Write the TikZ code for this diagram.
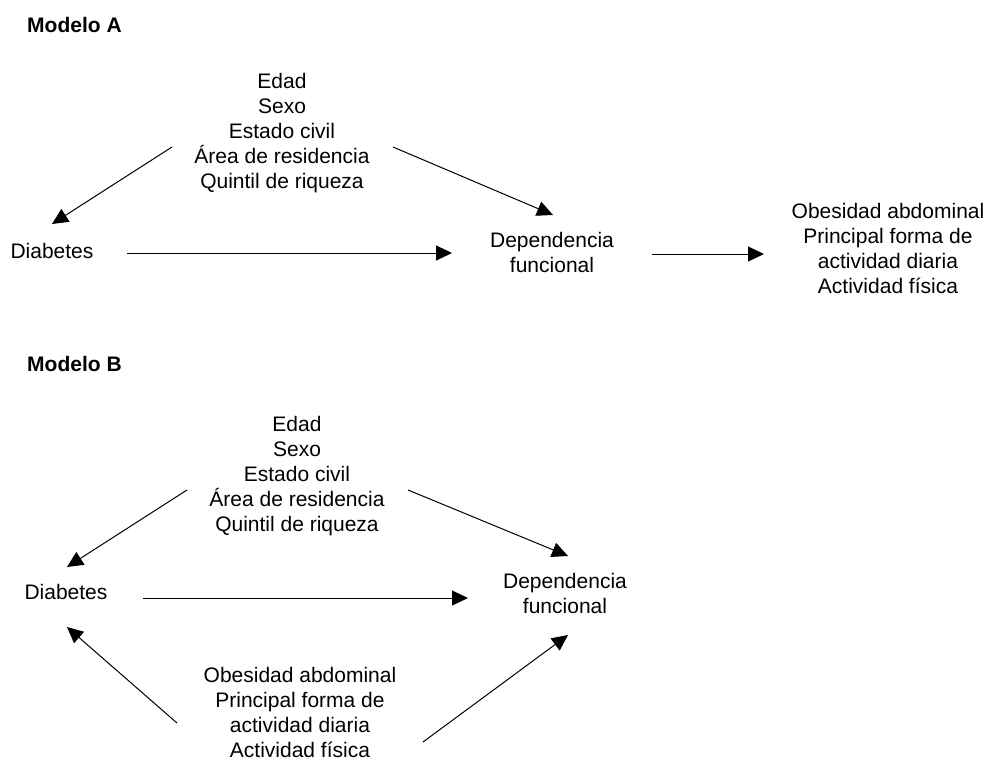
\documentclass[tikz,border=0pt]{standalone}
\usepackage{fontspec}
\setmainfont{Liberation Sans}
\usepackage{tikz}
\usetikzlibrary{calc, arrows.meta}
\tikzset{every node/.append style={font=\fontsize{21}{25}\selectfont}}
\tikzset{
    var/.style={align=center, inner sep=0pt},
    model/.style={anchor=west, inner sep=0pt, font=\fontsize{21}{25}\selectfont\bfseries},
    arr/.style={->, line width=1pt}
}

\begin{document}
\begin{tikzpicture}[x=1pt, y=-1pt, >={Triangle[length=16pt, width=15pt]}]
    \useasboundingbox (0,0) rectangle (987,760);
    % Modelo A
    \node[model] (modA) at (27,25) {Modelo A};
    \node[var] (topA) at (282,133) {Edad\\Sexo\\Estado civil\\Área de residencia\\Quintil de riqueza};
    \node[var] (diabA) at (52,251) {Diabetes};
    \node[var] (depA) at (552,252) {Dependencia\\funcional};
    \node[var] (obesA) at (888,248) {Obesidad abdominal\\Principal forma de\\actividad diaria\\Actividad física};
    \draw[arr] ($(topA)+(-110,14)$) -- ($(diabA)+(0,-27)$);
    \draw[arr] ($(topA)+(111,14)$) -- ($(depA)+(1,-37)$);
    \draw[arr] ($(diabA)+(75,2)$) -- ($(depA)+(-100,1)$);
    \draw[arr] ($(depA)+(100,2)$) -- ($(obesA)+(-124,6)$);
    % Modelo B
    \node[model] (modB) at (27,364) {Modelo B};
    \node[var] (topB) at (297,476) {Edad\\Sexo\\Estado civil\\Área de residencia\\Quintil de riqueza};
    \node[var] (diabB) at (66,592) {Diabetes};
    \node[var] (depB) at (565,593) {Dependencia\\funcional};
    \node[var] (obesB) at (300,712) {Obesidad abdominal\\Principal forma de\\actividad diaria\\Actividad física};
    \draw[arr] ($(topB)+(-110,14)$) -- ($(diabB)+(1,-25)$);
    \draw[arr] ($(topB)+(111,14)$) -- ($(depB)+(3,-37)$);
    \draw[arr] ($(diabB)+(77,6)$) -- ($(depB)+(-97,5)$);
    \draw[arr] ($(obesB)+(-123,11)$) -- ($(diabB)+(1,35)$);
    \draw[arr] ($(obesB)+(123,30)$) -- ($(depB)+(3,42)$);
\end{tikzpicture}
\end{document}
